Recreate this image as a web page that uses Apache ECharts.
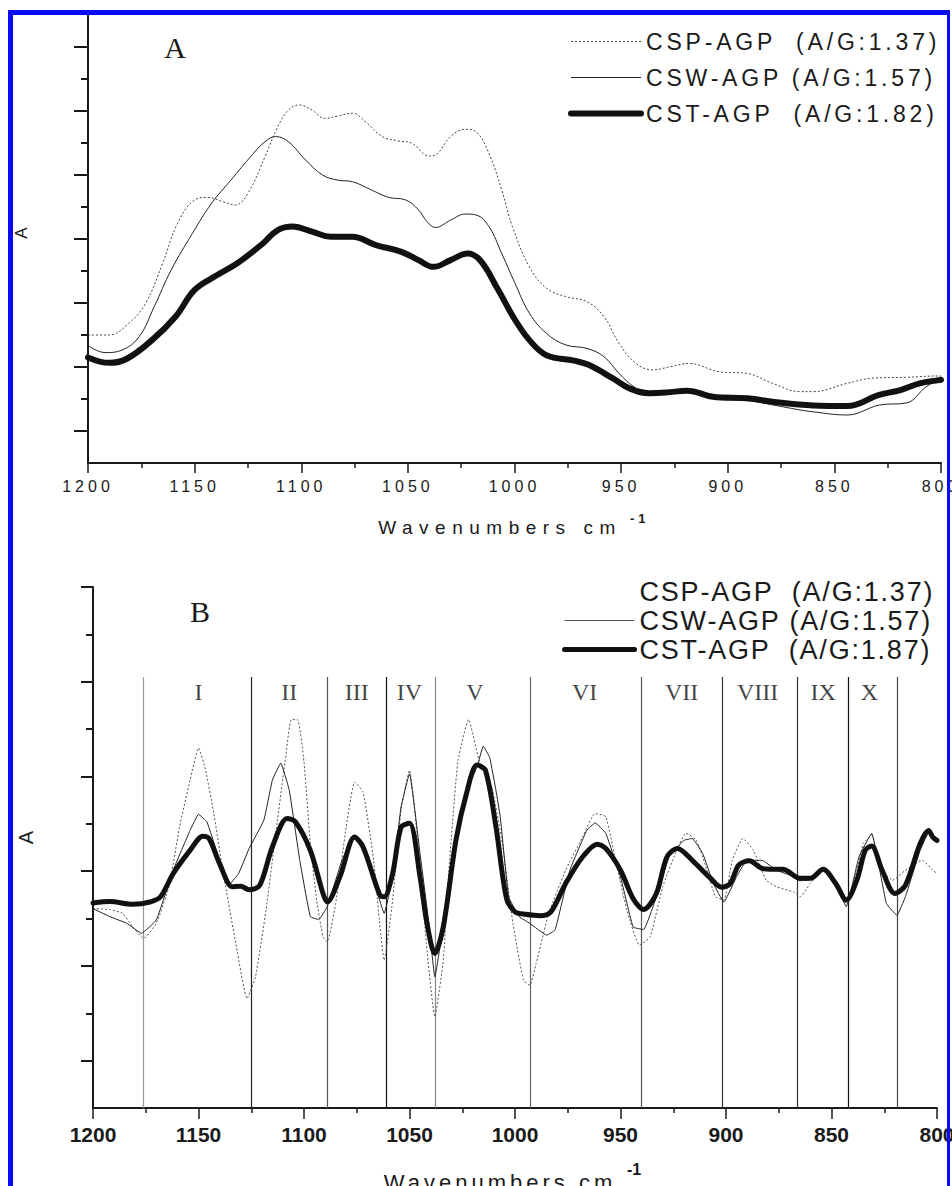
<!DOCTYPE html>
<html lang="en">
<head>
<meta charset="utf-8">
<title>FTIR spectra of AGP fractions</title>
<script src="https://cdn.jsdelivr.net/npm/echarts@6.0.0/dist/echarts.min.js"></script>
<style>
  html, body { margin: 0; padding: 0; background: #fff; }
  body { width: 952px; height: 1186px; overflow: hidden; position: relative; }
  #chartA { position: absolute; left: 0; top: 0; width: 952px; height: 560px; }
  #chartB { position: absolute; left: 0; top: 560px; width: 952px; height: 626px; }
  #frame {
    position: absolute; left: 8px; top: 10px; width: 942px; height: 1300px;
    box-sizing: border-box; border-left: 5px solid #0a0af5; border-top: 5px solid #0a0af5;
    border-right: 3px solid #0a0af5; pointer-events: none; z-index: 10;
  }
  /* panel A text is printed with wide tracking */
  #chartA text { letter-spacing: 4px; }
  #chartA text[style*="23px"] { letter-spacing: 3.8px; }
  #chartA text[style*="19px"] { letter-spacing: 6.5px; }
  #chartB text[style*="22px"] { letter-spacing: 4px; }
  #chartB text[style*="27px"] { letter-spacing: 1.8px; }
</style>
</head>
<body>
<div id="chartA"></div>
<div id="chartB"></div>
<div id="frame"></div>
<script>
  // ---------- panel A : original spectra ----------
  const aWnCSP = [1200,1190,1181,1173,1165,1158,1150,1144,1137,1131,1125,1117,1111,1106,1101,1095,1089,1083,1076,1070,
    1062,1055,1048,1040,1036,1030,1023,1018,1012,1006,1001,993,985,976,966,958,951,943,935,927,918,904,891,879,866,860,844,832,816,801,800];
  const aCSP = [4.00,4.00,4.36,4.99,6.24,7.49,8.22,8.30,8.17,8.06,8.43,9.57,10.51,11.03,11.19,11.03,10.77,10.84,10.93,10.67,
    10.20,10.07,9.99,9.59,9.68,10.20,10.43,10.35,9.68,8.53,7.39,6.13,5.46,5.20,5.04,4.57,3.74,3.11,2.91,3.01,3.11,2.85,2.80,2.49,2.23,2.23,2.49,2.65,2.68,2.72,2.72];

  const aWnCSW = [1200,1192,1184,1176,1169,1161,1151,1142,1133,1123,1117,1112,1106,1098,1090,1083,1076,1067,1059,1051,
    1045,1041,1037,1030,1023,1018,1012,1006,1000,993,985,976,966,958,951,944,937,929,919,907,891,876,868,860,844,829,816,807,801,800];
  const aCSW = [3.67,3.45,3.53,3.95,4.88,6.03,7.18,8.12,8.84,9.63,10.04,10.20,10.04,9.47,9.00,8.84,8.79,8.53,8.30,8.22,
    7.91,7.54,7.36,7.59,7.78,7.75,7.39,6.55,5.65,4.68,4.05,3.69,3.58,3.32,2.80,2.38,2.15,2.16,2.22,2.02,1.95,1.78,1.68,1.60,1.50,1.81,1.88,2.38,2.59,2.60];

  const aWnCST = [1200,1190,1182,1170,1159,1150,1140,1130,1118,1111,1104,1095,1086,1076,1065,1053,1045,1038,1030,1022,
    1016,1008,1000,993,985,972,965,954,946,937,929,919,907,891,876,860,844,829,819,810,801,800];
  const aCST = [3.30,3.13,3.25,3.84,4.57,5.41,5.85,6.24,6.86,7.28,7.39,7.23,7.07,7.07,6.81,6.60,6.34,6.13,6.34,6.55,
    6.33,5.45,4.50,3.84,3.37,3.20,3.06,2.65,2.33,2.18,2.20,2.26,2.07,2.02,1.89,1.80,1.78,2.13,2.28,2.49,2.59,2.60];

  const aNames = ['CSP-AGP \u00a0(A/G:1.37)', 'CSW-AGP (A/G:1.57)', 'CST-AGP \u00a0(A/G:1.82)'];
  const aMajorTicks = [1, 3, 5, 7, 9, 11, 13];
  const aMinorTicks = [2, 4, 6, 8, 10, 12];

  // ---------- panel B : second derivative spectra ----------
  const bWnCSP = [1200,1192,1186,1181,1176,1170,1164,1159,1154,1150,1147,1143,1138,1132,1127,1123,1118,1113,1109,1106,
    1103,1100,1097,1094,1091,1089,1085,1080,1076,1072,1067,1064,1062,1058,1054,1050,1046,1042,1038,1034,
    1031,1027,1022,1017,1011,1006,1001,996,993,990,984,976,968,962,957,952,947,941,936,930,
    924,919,914,909,905,901,897,892,887,881,876,868,865,860,854,848,843,838,835,831,826,821,815,807,802,800];
  const bCSP = [4.21,4.19,4.11,3.82,3.58,3.90,4.67,5.93,6.92,7.60,7.20,6.29,4.88,3.40,2.31,2.77,4.18,5.93,7.30,8.20,
    8.20,7.30,5.58,4.39,3.61,3.51,4.32,5.93,6.88,6.67,5.23,3.82,3.12,4.39,6.29,7.13,5.58,3.47,1.93,3.12,
    5.23,7.34,8.20,7.34,6.78,5.58,3.90,2.70,2.59,3.05,4.11,5.02,5.72,6.22,6.15,5.16,4.18,3.44,3.61,4.67,
    5.37,5.80,5.65,5.02,4.46,4.39,5.23,5.69,5.44,4.81,4.67,4.56,4.46,4.74,5.04,4.74,4.32,5.02,5.58,5.76,5.02,4.81,5.02,5.23,5.02,4.95];

  const bWnCSW = [1200,1192,1184,1177,1170,1162,1154,1150,1146,1141,1135,1131,1126,1119,1115,1111,1107,1102,1097,1093,
    1089,1082,1076,1072,1067,1062,1058,1054,1050,1045,1041,1038,1033,1031,1027,1023,1018,1015,1012,1009,
    1007,1003,998,993,985,981,974,966,962,957,950,944,939,933,927,920,916,911,906,901,
    895,890,883,876,870,865,860,854,848,843,837,831,824,819,815,808,804,800];
  const bCSW = [4.21,4.04,3.90,3.69,3.97,5.02,5.86,6.20,6.04,5.37,4.74,4.95,5.48,6.08,6.92,7.28,6.71,5.23,4.04,3.98,
    4.25,5.23,5.75,5.45,4.81,4.11,4.88,6.36,7.06,5.37,3.97,2.77,4.18,5.00,6.00,6.70,7.20,7.64,7.40,6.70,
    6.15,4.46,4.04,3.90,3.65,3.76,5.02,5.86,6.02,5.80,4.88,3.82,3.77,4.46,5.30,5.65,5.69,5.37,4.74,4.35,
    4.88,5.23,5.23,5.02,4.92,4.80,4.82,5.02,4.70,4.25,5.30,5.80,4.32,4.07,4.46,5.44,5.80,5.70];

  const bWnCST = [1200,1192,1181,1173,1168,1162,1154,1148,1145,1140,1134,1130,1126,1121,1115,1108,1104,1097,1091,1089,
    1083,1076,1072,1064,1062,1058,1054,1050,1045,1042,1038,1034,1028,1023,1018,1014,1009,1004,1000,995,
    988,983,976,968,961,957,950,944,939,933,928,923,916,908,902,898,894,889,883,878,
    873,865,860,854,848,843,838,834,831,826,820,815,808,804,802,800];
  const bCST = [4.33,4.36,4.30,4.35,4.46,4.95,5.44,5.74,5.69,5.16,4.67,4.68,4.61,4.70,5.51,6.11,6.04,5.44,4.53,4.35,
    4.88,5.72,5.51,4.49,4.46,4.95,5.93,6.01,4.88,3.97,3.26,3.82,5.65,6.64,7.24,7.13,5.93,4.42,4.14,4.09,
    4.06,4.14,4.74,5.30,5.57,5.48,5.02,4.42,4.19,4.53,5.30,5.48,5.23,4.88,4.66,4.74,5.13,5.22,5.06,5.04,
    5.04,4.85,4.85,5.04,4.74,4.39,4.81,5.44,5.53,5.02,4.53,4.70,5.58,5.86,5.72,5.65];

  const bNames = ['CSP-AGP \u00a0(A/G:1.37)', 'CSW-AGP (A/G:1.57)', 'CST-AGP \u00a0(A/G:1.87)'];
  const bMajorTicks = [1, 3, 5, 7, 9, 11];
  const bMinorTicks = [2, 4, 6, 8, 10];

  // band boundaries and band names
  const regionWn = [1176, 1125, 1089, 1061, 1038, 993, 940, 902, 866, 842, 819];
  const regionLabels = ['I', 'II', 'III', 'IV', 'V', 'VI', 'VII', 'VIII', 'IX', 'X'];
  const regionLabelWn = [1150, 1107, 1075, 1050, 1019, 967, 921, 885, 854, 832];
  const regionColors = ['#999', '#222', '#555', '#111', '#888', '#666', '#555', '#333', '#333', '#111', '#444'];
  const REGION_TOP = 9.1;
  const REGION_LABEL_Y = 8.78;

  const SANS = '"Liberation Sans", Arial, sans-serif';
  const SERIF = '"Liberation Serif", "Times New Roman", serif';
  const INK = '#1a1a1a';

  function pairs(xs, ys) { return xs.map(function (x, i) { return [x, ys[i]]; }); }

  function xAxisOpt(o) {
    return {
      type: 'value', min: 800, max: 1200, interval: 50, inverse: true,
      axisLine: { onZero: false, lineStyle: { color: INK, width: 2 } },
      axisTick: { length: o.tickLen, lineStyle: { color: INK, width: 1.5 } },
      minorTick: { show: true, splitNumber: 2, length: 5, lineStyle: { color: INK, width: 1.5 } },
      splitLine: { show: false }, minorSplitLine: { show: false },
      axisLabel: { color: INK, fontFamily: SANS, fontSize: o.labelSize, fontWeight: o.labelWeight, margin: o.labelMargin,
        formatter: function (v) { return String(v); } },
      name: 'Wavenumbers cm', nameLocation: 'middle', nameGap: o.nameGap,
      nameTextStyle: { color: INK, fontFamily: SANS, fontSize: o.nameSize, padding: [0, o.namePadRight, 0, 0] }
    };
  }

  function yAxesOpt(o) {
    return [{
      type: 'value', min: 0, max: o.max, position: 'left',
      axisLine: { show: true, lineStyle: { color: INK, width: 2 } },
      axisTick: { show: true, customValues: o.major, length: o.majorLen, lineStyle: { color: INK, width: 2 } },
      axisLabel: { show: false }, splitLine: { show: false },
      name: 'A', nameLocation: 'middle', nameRotate: 90, nameGap: o.nameGap,
      nameTextStyle: { color: INK, fontFamily: SANS, fontSize: o.nameSize, padding: [0, 0, 0, o.namePad] }
    }, {
      type: 'value', min: 0, max: o.max, position: 'left',
      axisLine: { show: false },
      axisTick: { show: true, customValues: o.minor, length: 7, lineStyle: { color: INK, width: 2 } },
      axisLabel: { show: false }, splitLine: { show: false }
    }];
  }

  // ---------- chart A ----------
  const chartA = echarts.init(document.getElementById('chartA'), null, { renderer: 'svg' });
  chartA.setOption({
    animation: false,
    grid: { left: 88, right: 11, top: 15, bottom: 97, outerBoundsMode: 'none' },
    xAxis: xAxisOpt({ tickLen: 10, labelSize: 16, labelWeight: 'normal', labelMargin: 15, nameGap: 55, nameSize: 19, namePadRight: 29 }),
    yAxis: yAxesOpt({ max: 14, major: aMajorTicks, minor: aMinorTicks, majorLen: 14, nameGap: 58, nameSize: 17, namePad: 16 }),
    legend: {
      orient: 'vertical', left: 568, top: 30, padding: 0, itemWidth: 70, itemHeight: 14, itemGap: 13,
      selectedMode: false, itemStyle: { opacity: 0 },
      textStyle: { fontFamily: SANS, fontSize: 23, color: INK },
      data: [
        { name: aNames[0], lineStyle: { width: 1, type: [2, 2], color: '#444' } },
        { name: aNames[1], lineStyle: { width: 1, color: '#222' } },
        { name: aNames[2], lineStyle: { width: 6, color: '#111' } }
      ]
    },
    graphic: [
      { type: 'text', x: 177, y: 47, style: { text: 'A', fontFamily: SERIF, fontSize: 30, fill: INK, align: 'center', verticalAlign: 'middle' } },
      { type: 'text', x: 630, y: 518, style: { text: '-1', fontFamily: SANS, fontSize: 13, fontWeight: 'bold', fill: INK, align: 'left', verticalAlign: 'middle' } }
    ],
    series: [
      { name: aNames[0], type: 'line', data: pairs(aWnCSP, aCSP), symbol: 'none', smooth: 0.4,
        lineStyle: { color: '#444', width: 1, type: [2, 2] } },
      { name: aNames[1], type: 'line', data: pairs(aWnCSW, aCSW), symbol: 'none', smooth: 0.4,
        lineStyle: { color: '#222', width: 1 } },
      { name: aNames[2], type: 'line', data: pairs(aWnCST, aCST), symbol: 'none', smooth: 0.4,
        lineStyle: { color: '#111', width: 6, cap: 'round', join: 'round' } }
    ]
  });

  // ---------- chart B ----------
  const chartB = echarts.init(document.getElementById('chartB'), null, { renderer: 'svg' });
  chartB.setOption({
    animation: false,
    grid: { left: 93, right: 15, top: 27, bottom: 78, outerBoundsMode: 'none' },
    xAxis: xAxisOpt({ tickLen: 11, labelSize: 21, labelWeight: 'bold', labelMargin: 16, nameGap: 63, nameSize: 22, namePadRight: 30 }),
    yAxis: yAxesOpt({ max: 11, major: bMajorTicks, minor: bMinorTicks, majorLen: 12, nameGap: 57, nameSize: 20, namePad: 20 }),
    legend: {
      orient: 'vertical', left: 562, top: 18, padding: 0, itemWidth: 70, itemHeight: 14, itemGap: 2,
      selectedMode: false, itemStyle: { opacity: 0 },
      textStyle: { fontFamily: SANS, fontSize: 27, color: INK },
      data: [
        { name: bNames[0], lineStyle: { opacity: 0 } },
        { name: bNames[1], lineStyle: { width: 1, color: '#555' } },
        { name: bNames[2], lineStyle: { width: 5, color: '#111' } }
      ]
    },
    graphic: [
      { type: 'text', x: 200, y: 51, style: { text: 'B', fontFamily: SERIF, fontSize: 30, fill: INK, align: 'center', verticalAlign: 'middle' } },
      { type: 'text', x: 627, y: 609, style: { text: '-1', fontFamily: SANS, fontSize: 16, fontWeight: 'bold', fill: INK, align: 'left', verticalAlign: 'middle' } }
    ],
    series: [
      { type: 'lines', coordinateSystem: 'cartesian2d', silent: true, z: 1,
        lineStyle: { width: 1.2, opacity: 1 },
        data: regionWn.map(function (w, i) {
          return { coords: [[w, 0], [w, REGION_TOP]], lineStyle: { color: regionColors[i] } };
        }) },
      { type: 'scatter', silent: true, symbolSize: 1, itemStyle: { color: 'rgba(0,0,0,0)' },
        data: regionLabelWn.map(function (w, i) { return [w, REGION_LABEL_Y, regionLabels[i]]; }),
        label: { show: true, position: 'inside', formatter: function (p) { return p.value[2]; },
          fontFamily: SERIF, fontSize: 24, color: '#111' } },
      { name: bNames[0], type: 'line', data: pairs(bWnCSP, bCSP), symbol: 'none', smooth: 0.15,
        lineStyle: { color: '#555', width: 1, type: [2, 2] } },
      { name: bNames[1], type: 'line', data: pairs(bWnCSW, bCSW), symbol: 'none', smooth: 0.1,
        lineStyle: { color: '#222', width: 1 } },
      { name: bNames[2], type: 'line', data: pairs(bWnCST, bCST), symbol: 'none', smooth: 0.3,
        lineStyle: { color: '#111', width: 5, cap: 'round', join: 'round' } }
    ]
  });
</script>
</body>
</html>
